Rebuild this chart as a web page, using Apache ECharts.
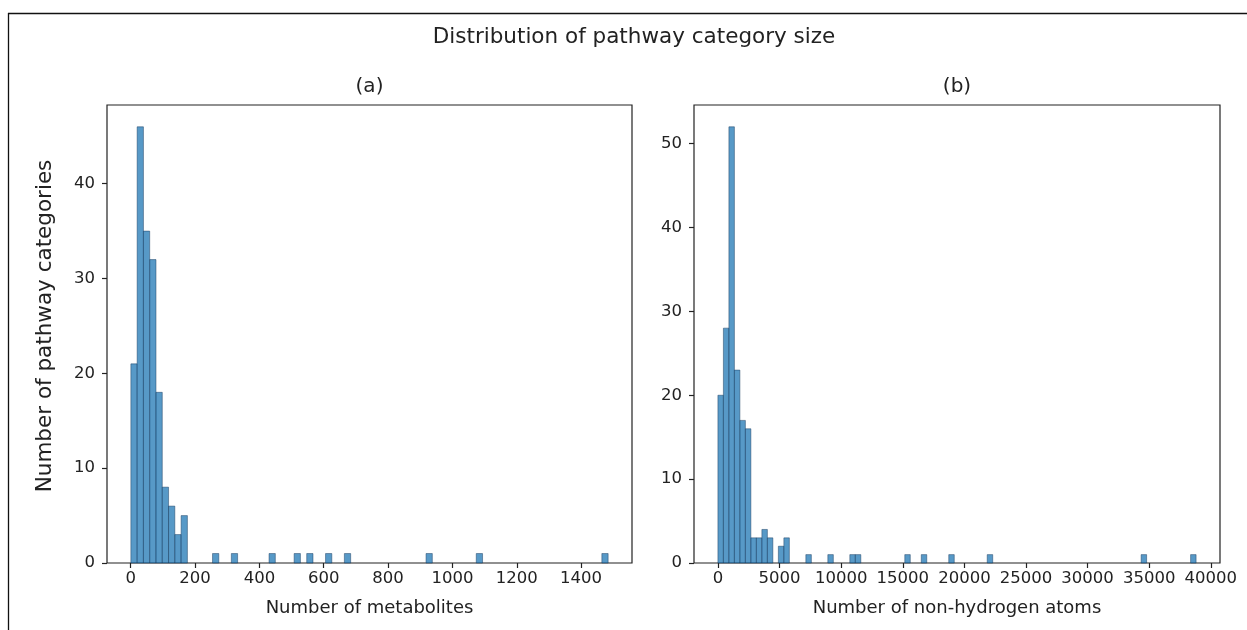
<!DOCTYPE html>
<html>
<head>
<meta charset="utf-8">
<title>Distribution of pathway category size</title>
<script src="https://cdn.jsdelivr.net/npm/echarts@6/dist/echarts.min.js"></script>
<style>
  html, body { margin: 0; padding: 0; background: #fff; }
  #main { width: 1247px; height: 630px; }
</style>
</head>
<body>
<div id="main"></div>
<script>
// (a) metabolites per pathway category: bin left edges + counts
var metabBinWidth = 19.52;
var metabBinStart = [0.5, 20.0, 39.5, 59.1, 78.6, 98.1, 117.6, 137.1, 156.7, 254.3, 312.8, 430.0, 508.0, 547.1, 605.6, 664.2, 918.0, 1074.1, 1464.5];
var metabCount    = [21, 46, 35, 32, 18, 8, 6, 3, 5, 1, 1, 1, 1, 1, 1, 1, 1, 1, 1];

// (b) non-hydrogen atoms per pathway category
var atomBinWidth = 446;
var atomBinStart = [0, 446, 892, 1338, 1784, 2230, 2676, 3122, 3568, 4014, 4906, 5352, 7136, 8920, 10704, 11150, 15164, 16502, 18732, 21854, 34342, 38356];
var atomCount    = [20, 28, 52, 23, 17, 16, 3, 3, 4, 3, 2, 3, 1, 1, 1, 1, 1, 1, 1, 1, 1, 1];

// tick labels
var metabTicks = [0, 200, 400, 600, 800, 1000, 1200, 1400];
var atomTicks  = [0, 5000, 10000, 15000, 20000, 25000, 30000, 35000, 40000];
var countTicksA = [0, 10, 20, 30, 40];
var countTicksB = [0, 10, 20, 30, 40, 50];

var FONT = 'DejaVu Sans';

function toBins(starts, counts, w) {
    var out = [];
    for (var i = 0; i < starts.length; i++) {
        out.push([starts[i], starts[i] + w, counts[i]]);
    }
    return out;
}

function renderBin(params, api) {
    var p0 = api.coord([api.value(0), api.value(2)]);
    var p1 = api.coord([api.value(1), 0]);
    return {
        type: 'rect',
        shape: { x: p0[0], y: p0[1], width: p1[0] - p0[0], height: p1[1] - p0[1] },
        style: {
            fill: 'rgba(31,119,180,0.75)',
            stroke: 'rgba(25,60,95,0.6)',
            lineWidth: 0.8
        }
    };
}

function plain(v) { return String(v); }

function xAxisOf(idx, min, max, ticks, name) {
    return {
        type: 'value', gridIndex: idx, min: min, max: max,
        name: name, nameLocation: 'middle', nameGap: 36,
        nameTextStyle: { fontFamily: FONT, fontSize: 18, color: '#222' },
        axisLine: { show: false, onZero: false },
        axisTick: { show: true, length: 5, customValues: ticks, lineStyle: { color: '#222', width: 1.2 } },
        axisLabel: { customValues: ticks, margin: 7, formatter: plain, fontFamily: FONT, fontSize: 16.5, color: '#222' },
        splitLine: { show: false }
    };
}

function yAxisOf(idx, max, ticks) {
    return {
        type: 'value', gridIndex: idx, min: 0, max: max,
        axisLine: { show: false, onZero: false },
        axisTick: { show: true, length: 5, customValues: ticks, lineStyle: { color: '#222', width: 1.2 } },
        axisLabel: { customValues: ticks, margin: 12, formatter: plain, fontFamily: FONT, fontSize: 16.5, color: '#222' },
        splitLine: { show: false }
    };
}

var myChart = echarts.init(document.getElementById('main'));

option = {
    backgroundColor: '#fff',
    animation: false,
    title: [
        { text: 'Distribution of pathway category size', left: 634, top: 26, textAlign: 'center', padding: 0,
          textStyle: { fontFamily: FONT, fontSize: 21.5, fontWeight: 'normal', color: '#222' } },
        { text: '(a)', left: 369.5, top: 77, textAlign: 'center', padding: 0,
          textStyle: { fontFamily: FONT, fontSize: 20, fontWeight: 'normal', color: '#222' } },
        { text: '(b)', left: 957, top: 77, textAlign: 'center', padding: 0,
          textStyle: { fontFamily: FONT, fontSize: 20, fontWeight: 'normal', color: '#222' } }
    ],
    grid: [
        { left: 107, top: 105, width: 525, height: 458, show: true, borderColor: '#222', borderWidth: 1.2, backgroundColor: '#fff' },
        { left: 694, top: 105, width: 526, height: 458, show: true, borderColor: '#222', borderWidth: 1.2, backgroundColor: '#fff' }
    ],
    xAxis: [
        xAxisOf(0, -73.7, 1558.2, metabTicks, 'Number of metabolites'),
        xAxisOf(1, -1940, 40742, atomTicks, 'Number of non-hydrogen atoms')
    ],
    yAxis: [
        yAxisOf(0, 48.3, countTicksA),
        yAxisOf(1, 54.6, countTicksB)
    ],
    graphic: [
        { type: 'line', shape: { x1: 8, y1: 13.5, x2: 1247, y2: 13.5 }, style: { stroke: '#111', lineWidth: 1.3 } },
        { type: 'line', shape: { x1: 8.5, y1: 13, x2: 8.5, y2: 630 }, style: { stroke: '#111', lineWidth: 1.3 } },
        { type: 'text', x: 45, y: 326, rotation: Math.PI / 2,
          style: { text: 'Number of pathway categories', fontFamily: FONT, fontSize: 21.5, fill: '#222',
                   textAlign: 'center', textVerticalAlign: 'middle' } }
    ],
    series: [
        { type: 'custom', xAxisIndex: 0, yAxisIndex: 0, renderItem: renderBin,
          encode: { x: [0, 1], y: 2 }, data: toBins(metabBinStart, metabCount, metabBinWidth) },
        { type: 'custom', xAxisIndex: 1, yAxisIndex: 1, renderItem: renderBin,
          encode: { x: [0, 1], y: 2 }, data: toBins(atomBinStart, atomCount, atomBinWidth) }
    ]
};

myChart.setOption(option);
</script>
</body>
</html>
